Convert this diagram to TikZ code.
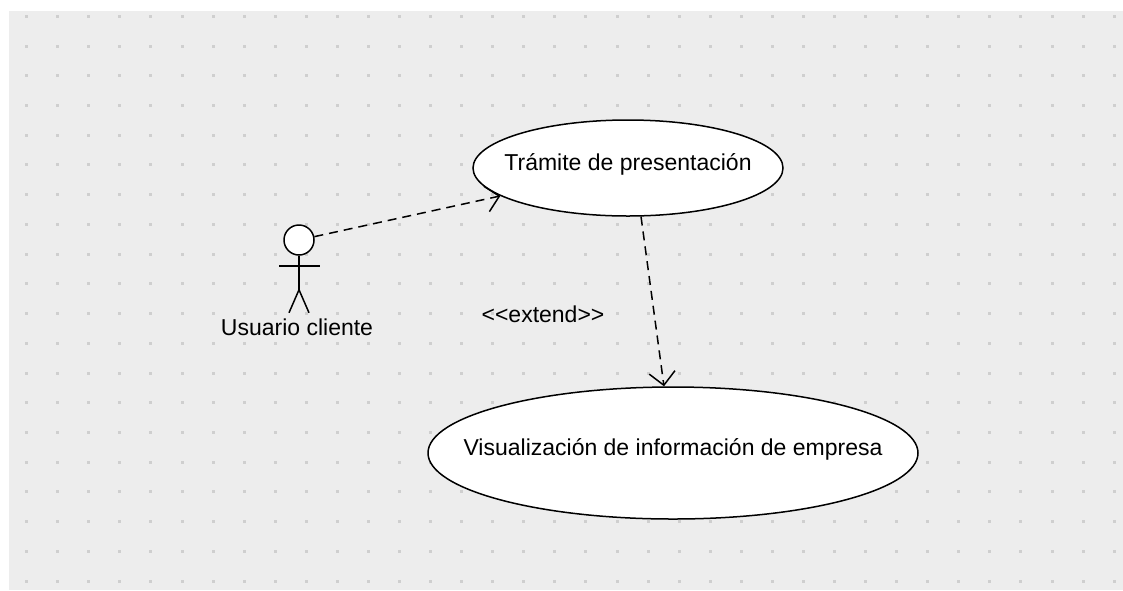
\documentclass[tikz,border=0pt]{standalone}
\usepackage{fontspec}
\setmainfont{Liberation Sans}
\usetikzlibrary{arrows.meta,shapes.geometric}

\definecolor{canvas}{gray}{0.93}
\definecolor{griddot}{gray}{0.81}

\tikzset{
  usecase/.style={ellipse,draw,fill=white,inner sep=0pt},
  dep/.style={dash pattern=on 9pt off 6pt,-{Straight Barb[length=13pt,width=26pt]}},
}

\begin{document}
\begin{tikzpicture}[x=1pt,y=-1pt,line width=1.5pt,font=\fontsize{23}{27}\selectfont]
    \useasboundingbox (0,0) rectangle (1123,590);
    \fill[canvas] (9,11) rectangle (1123,590);
    \foreach \i in {0,...,35}
      \foreach \j in {0,...,19}
        \fill[griddot] (25.2+31.07*\i,14.8+29.73*\j) rectangle +(3,3);

    \node[usecase,minimum width=310,minimum height=96,
          label={[yshift=4]center:Trámite de presentación}] (tramite) at (628,168) {};
    \node[usecase,minimum width=490,minimum height=132,
          label={[yshift=4]center:Visualización de información de empresa}] (visual) at (673,453) {};

    % actor
    \node[circle,draw,fill=white,minimum size=30,inner sep=0pt] (head) at (299,240) {};
    \draw (head.south) -- ++(0,34) coordinate (hip);
    \draw (head.south) ++(-20,10) -- ++(41,0);
    \draw (hip) -- ++(-10,23) (hip) -- ++(10,23);
    \node (usr) at (297,327) {Usuario cliente};

    \draw[dep] (head) -- (tramite);
    \draw[dep] (tramite.-75) -- (visual);
    \node (ext) at (543,314) {<{}<extend>{}>};
\end{tikzpicture}
\end{document}
